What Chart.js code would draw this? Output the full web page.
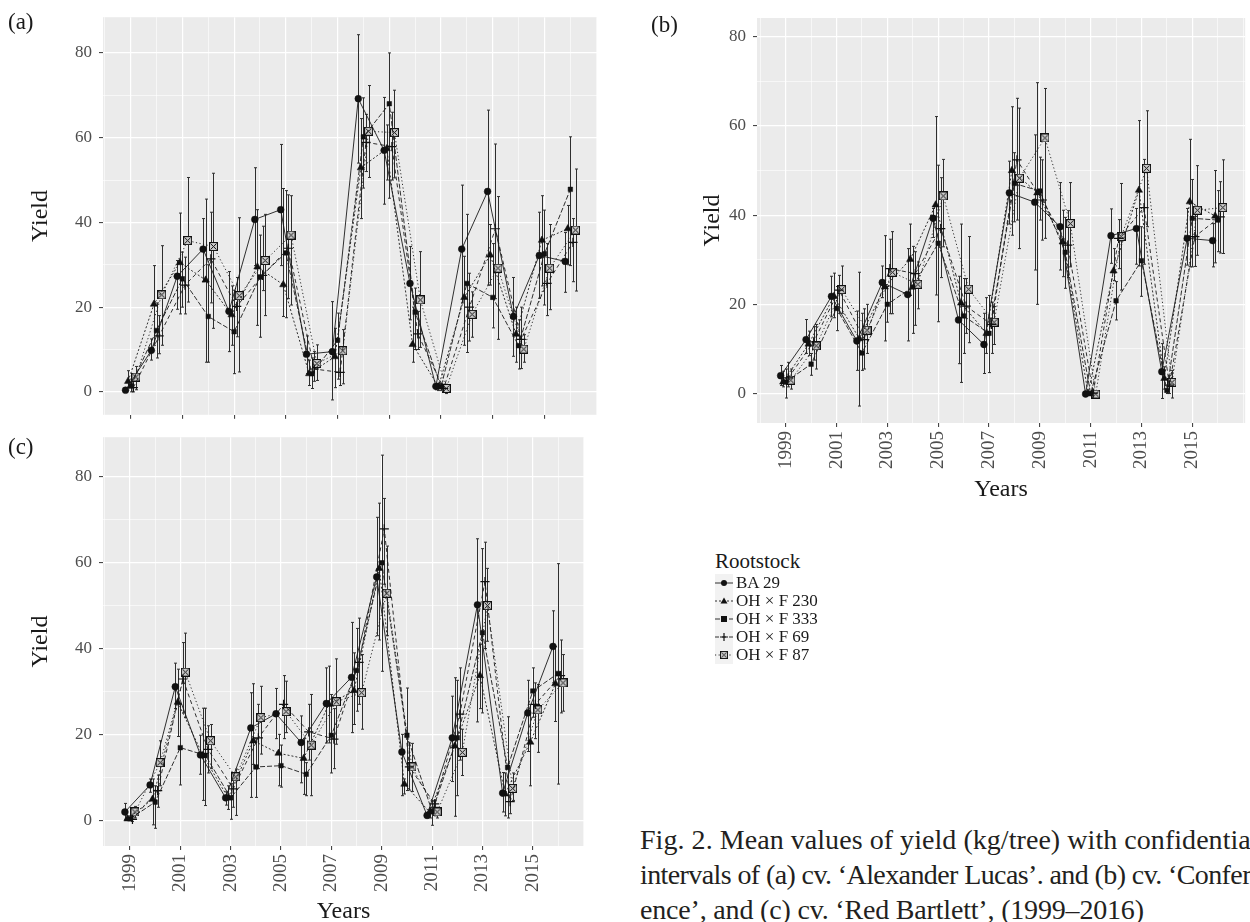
<!DOCTYPE html>
<html lang="en">
<head>
  <meta charset="UTF-8" />
  <title>Yield by rootstock, 1999–2016</title>
  <script src="https://cdn.jsdelivr.net/npm/chart.js"></script>
  <style>
    body {
      margin: 0;
      width: 1250px;
      height: 922px;
      position: relative;
      overflow: hidden;
      background: #fff;
      font-family: 'Liberation Serif', serif;
      color: #1a1a1a;
    }
    canvas.panel { position: absolute; }
    .tag { position: absolute; font-size: 23px; line-height: 24px; }
    #legend { position: absolute; left: 715px; top: 549px; }
    #legend .ltitle { font-size: 21px; line-height: 24px; margin-bottom: 1px; }
    #legend .lrow { display: flex; align-items: center; height: 18px; font-size: 17px; }
    #legend canvas { margin-right: 3px; }
    #caption {
      position: absolute;
      left: 640px;
      top: 822px;
      width: 610px;
      overflow: hidden;
      white-space: nowrap;
      font-size: 28px;
      line-height: 35px;
      color: #231f20;
    }
  </style>
</head>
<body>
  <canvas id="chartA" class="panel" width="610" height="432" style="left:0;top:0"></canvas>
  <canvas id="chartB" class="panel" width="630" height="520" style="left:640px;top:0"></canvas>
  <canvas id="chartC" class="panel" width="610" height="506" style="left:0;top:420px"></canvas>

  <div class="tag" style="left:8px;top:10px">(a)</div>
  <div class="tag" style="left:651px;top:13px">(b)</div>
  <div class="tag" style="left:8px;top:435px">(c)</div>

  <div id="legend">
    <div class="ltitle">Rootstock</div>
  </div>

  <div id="caption">
    <div style="letter-spacing:0.05px">Fig. 2. Mean values of yield (kg/tree) with confidential</div>
    <div style="letter-spacing:-0.6px">intervals of (a) cv. ‘Alexander Lucas’. and (b) cv. ‘Confer-</div>
    <div style="letter-spacing:-0.18px">ence’, and (c) cv. ‘Red Bartlett’, (1999–2016)</div>
  </div>

  <script>
    // ---- data ----
    const years = [1999, 2000, 2001, 2002, 2003, 2004, 2005, 2006, 2007, 2008, 2009, 2010, 2011, 2012, 2013, 2014, 2015, 2016];
    const rootstocks = ['BA 29', 'OH × F 230', 'OH × F 333', 'OH × F 69', 'OH × F 87'];
    const gridYears = [1998, 1999, 2000, 2001, 2002, 2003, 2004, 2005, 2006, 2007, 2008, 2009, 2010, 2011, 2012, 2013, 2014, 2015, 2016, 2017];
    const yearLabels = [1999, 2001, 2003, 2005, 2007, 2009, 2011, 2013, 2015];
    const yieldGrid = [0, 10, 20, 30, 40, 50, 60, 70, 80];
    const yieldLabels = [0, 20, 40, 60, 80];

    // (a) cv. Alexander Lucas
    const a_ba29    = [0.4, 9.8, 27.3, 33.7, 19.0, 40.7, 43.0, 8.9, 9.5, 69.2, 57.0, 25.6, 1.3, 33.7, 47.3, 17.8, 32.2, 30.8];
    const a_ba29_lo = [0, 7.5, 19.5, 26, 9.5, 29.8, 29.8, 4.3, -1.9, 54, 44.3, 17, 0.5, 21, 25.2, 8.4, 22.1, 23.5];
    const a_ba29_hi = [1, 12.5, 31, 40.9, 28.4, 52.9, 58.4, 13.2, 21.3, 84.3, 69.5, 34.3, 2, 48.8, 66.5, 27, 42.4, 37.6];
    const a_f230    = [2.5, 20.7, 30.5, 26.4, 18.2, 29.5, 25.3, 4.3, 8.3, 52.9, 57.4, 11.2, 1.2, 22.3, 32.3, 13.6, 35.8, 38.5];
    const a_f230_lo = [1, 11, 18.4, 7, 11, 15.7, 17.8, 1.5, 1, 40.9, 50, 7, 0.3, 11, 25.2, 7, 25, 30];
    const a_f230_hi = [5, 29.8, 42.2, 45.5, 25, 43, 48, 7.5, 15, 64.5, 63, 20, 2, 32, 39.5, 20, 46.3, 44];
    const a_f333    = [1.4, 14.5, 26.7, 17.8, 14.2, 27.1, 32.8, 4.3, 12.2, 60.2, 68.0, 18.8, 1.2, 25.6, 22.3, 10.9, 32.6, 47.8];
    const a_f333_lo = [0, 8, 20, 7, 4.3, 12.9, 17.5, 0.8, 3, 48.1, 45.7, 10, 0.3, 9.3, 15.1, 5.4, 20.5, 29.8];
    const a_f333_hi = [3, 21, 33, 30, 24, 37, 47.5, 8, 18.6, 69.4, 80, 24.5, 2, 41.9, 35, 17, 42.9, 60.2];
    const a_f69     = [1.0, 13.2, 25.2, 31.4, 20.2, 27.5, 33.9, 5.4, 4.6, 58.9, 57.9, 13.7, 0.8, 20.0, 38.5, 12.4, 25.6, 35.3];
    const a_f69_lo  = [0, 9, 18.4, 21, 13, 23.9, 22, 2.5, 1.5, 52, 50, 10, 0, 12, 22, 5.5, 18, 26];
    const a_f69_hi  = [3, 18, 31.8, 42.4, 27, 39.1, 46.5, 9.5, 10, 65.5, 66, 19, 1.8, 28, 58.5, 20, 35, 40.9];
    const a_f87     = [3.5, 22.9, 35.7, 34.3, 22.7, 31.0, 37.0, 6.7, 9.7, 61.5, 61.2, 21.7, 0.8, 18.3, 29.2, 10.1, 29.2, 38.2];
    const a_f87_lo  = [0.5, 11, 21.2, 15, 4.7, 18, 20.5, 2.7, 1.9, 50.6, 50.5, 10.5, -0.4, 12.9, 12.4, 7, 19.4, 23.8];
    const a_f87_hi  = [6, 34.5, 50.6, 51.6, 41.1, 41.9, 46.3, 11.1, 14.7, 72.3, 71.2, 33.1, 1.8, 23.6, 46.1, 13.5, 39.5, 52.6];

    // (b) cv. Conference
    const b_ba29    = [4.0, 12.1, 21.8, 11.8, 24.9, 22.2, 39.3, 16.5, 11.0, 45.0, 42.9, 37.4, -0.1, 35.4, 37.0, 4.9, 34.8, 34.3];
    const b_ba29_lo = [1.8, 9, 17.2, 5.2, 21.5, 11.8, 35, 6.7, 4.5, 38, 27.7, 27.7, -0.4, 29.2, 29, -1.1, 28.8, 28.4];
    const b_ba29_hi = [6.3, 16.6, 26.3, 18.5, 28.6, 32.5, 41.5, 26.3, 18, 52.1, 58, 47.3, 0.2, 41.4, 41.5, 11.2, 41.5, 38.1];
    const b_f230    = [2.6, 11.1, 21.8, 12.3, 23.9, 30.1, 42.3, 20.3, 13.5, 50.0, 45.0, 34.0, 0, 27.5, 45.6, 3.4, 43.0, 39.8];
    const b_f230_lo = [1.5, 8.5, 17, -2.8, 11.8, 22, 22.1, 2.5, 9, 35.5, 20, 26.2, -0.3, 25.3, 28.6, 1, 28.4, 29.3];
    const b_f230_hi = [5, 14, 27, 27.2, 35.4, 38, 62.1, 38, 21.5, 64.3, 69.7, 41.1, 0.3, 32.5, 61.2, 6, 57, 50];
    const b_f333    = [2.6, 6.6, 19.1, 9.1, 20.0, 23.9, 33.7, 17.4, 13.5, 47.1, 45.4, 31.7, 0, 20.8, 29.8, 0.7, 39.3, 38.9];
    const b_f333_lo = [-1, 4.1, 14.1, 5.2, 16, 13.5, 16.1, 9, 4.7, 38.5, 38.9, 23.6, -0.3, 16.5, 21.8, 0, 28.4, 31.8];
    const b_f333_hi = [5.5, 9, 24, 18, 24, 33, 51.2, 25.8, 22, 54, 53, 39.5, 0.3, 25.1, 37.4, 1.5, 48, 45.5];
    const b_f69     = [3.5, 11.6, 23.2, 12.1, 28.0, 26.9, 37.0, 19.6, 15.5, 52.4, 43.4, 33.3, 0.1, 34.8, 41.7, 1.9, 35.2, 39.6];
    const b_f69_lo  = [1.5, 7.5, 18, 5.5, 17.9, 15.3, 26, 13.5, 9, 38.9, 34.4, 26, -0.2, 28, 29, 0, 28.5, 31.5];
    const b_f69_hi  = [7, 15, 26.5, 19, 34.6, 31.8, 48.4, 25.8, 20.5, 66.2, 52.4, 41, 0.4, 39, 52.5, 4, 42, 47.5];
    const b_f87     = [3.0, 10.7, 23.3, 14.2, 27.2, 24.5, 44.3, 23.4, 16.0, 48.3, 57.3, 38.1, -0.1, 35.2, 50.5, 2.5, 41.1, 41.7];
    const b_f87_lo  = [1, 5.5, 18, 9, 17.9, 19, 32.9, 11.4, 11, 32.5, 34.8, 28.4, -0.4, 23.2, 37.4, -1, 31, 31.4];
    const b_f87_hi  = [5.5, 15.5, 28.6, 20, 36.3, 29.5, 52.5, 35.2, 19.5, 64, 68.4, 47.3, 0.2, 47.1, 63.4, 5.2, 51.1, 52.4];

    // (c) cv. Red Bartlett
    const c_ba29    = [1.9, 8.2, 31.1, 15.2, 5.2, 21.5, 24.8, 18.1, 27.2, 33.3, 56.7, 15.9, 1.1, 19.2, 50.2, 6.3, 25.0, 40.5];
    const c_ba29_lo = [0.2, 6.5, 26, 10.7, 3.5, 5.3, 19, 8.7, 18, 20.4, 43, 5.7, 0.5, 9, 22.9, 1.9, 16, 32];
    const c_ba29_hi = [3.9, 9.6, 36.6, 19.8, 6.6, 29.7, 30.7, 24.3, 35.5, 46.1, 70.6, 20, 1.8, 28.9, 65.6, 11.1, 32.6, 48.8];
    const c_f230    = [0.3, 4.9, 27.5, 15.1, 5.2, 18.5, 15.6, 14.4, 27.0, 30.2, 58.7, 8.4, 1.9, 17.3, 33.7, 6.1, 18.2, 31.8];
    const c_f230_lo = [0, -1.1, 19.5, 4.6, 2.5, 13, 8, 6, 18, 22.3, 42, 6.1, 0.5, 0.9, 26, 1, 8, 23];
    const c_f230_hi = [1, 9.6, 35.2, 26.1, 8, 31.8, 20, 19, 35.9, 39, 73.9, 9.6, 3, 33.2, 41, 11, 27, 40.5];
    const c_f333    = [0.3, 4.2, 16.9, 15.1, 5.2, 12.4, 12.7, 10.7, 19.8, 34.9, 60.0, 19.8, 2.0, 19.2, 43.7, 12.3, 30.1, 34.2];
    const c_f333_lo = [0, -1.9, 8.2, 3.4, 0.2, 5.3, 7.7, 5.7, 11, 25.4, 34.7, 6.9, -1.2, 5.7, 25, 0.5, 24, 8.4];
    const c_f333_hi = [1, 8, 27, 26.1, 8.5, 19, 17.5, 13.4, 29.3, 44.7, 85.1, 30.8, 4.5, 32.6, 63.3, 24.1, 35.5, 59.8];
    const c_f69     = [0.2, 6.9, 32.9, 16.5, 7.3, 19.2, 27.0, 20.6, 18.9, 36.8, 67.9, 12.4, 3.8, 24.7, 55.6, 4.3, 27.0, 33.7];
    const c_f69_lo  = [-0.3, 3, 25, 11, 3, 12, 19, 14, 12, 27, 55, 7, 1, 14, 40, 1.5, 19, 25];
    const c_f69_hi  = [0.8, 10.5, 41.4, 22, 11, 27, 33.7, 27, 26, 47.1, 75, 18, 4.5, 35.5, 64.8, 8, 32, 42];
    const c_f87     = [1.9, 13.4, 34.5, 18.5, 10.1, 23.9, 25.3, 17.5, 27.6, 29.7, 52.9, 12.4, 1.9, 15.8, 50.0, 7.4, 25.7, 32.0];
    const c_f87_lo  = [0.5, 8, 23.9, 12, 1.1, 15.4, 20.4, 5.7, 17.7, 21.2, 43, 6.7, 0.5, 10.4, 41.7, 4.6, 15.8, 25.4];
    const c_f87_hi  = [3.2, 18.5, 43.6, 22.3, 11.9, 31.2, 32.4, 29.3, 37.6, 38.6, 63.9, 17.9, 3, 21.2, 58.7, 11, 31.6, 38.6];

    // ---- styling ----
    const FONT = "'Liberation Serif', serif";
    const ink = '#1a1a1a';
    const dodge = [-0.2, -0.1, 0, 0.1, 0.2];
    const dashes = [[], [2, 2], [5, 2], [4, 3], [1.2, 2.4]];
    const markerSize = [3.4, 4.2, 3.2, 4.6, 4.5];

    // open square with an X (ggplot shape 7)
    function boxCross(size) {
      const c = document.createElement('canvas');
      c.width = size; c.height = size;
      const g = c.getContext('2d');
      g.fillStyle = '#c9c9c9';
      g.fillRect(0, 0, size, size);
      g.strokeStyle = '#111';
      g.lineWidth = 1;
      g.strokeRect(0.5, 0.5, size - 1, size - 1);
      g.beginPath();
      g.moveTo(1.5, 1.5); g.lineTo(size - 1.5, size - 1.5);
      g.moveTo(size - 1.5, 1.5); g.lineTo(1.5, size - 1.5);
      g.stroke();
      return c;
    }
    const markers = ['circle', 'triangle', 'rect', 'cross', boxCross(9)];

    const panelBg = {
      id: 'panelBg',
      beforeDraw(chart) {
        const { ctx, chartArea: a } = chart;
        ctx.save();
        ctx.fillStyle = '#EBEBEB';
        ctx.fillRect(a.left, a.top, a.right - a.left, a.bottom - a.top);
        ctx.restore();
      }
    };

    // vertical error bars with small caps, placed through the chart scales
    const errorBars = {
      id: 'errorBars',
      beforeDatasetsDraw(chart) {
        const { ctx, scales: { x, y } } = chart;
        ctx.save();
        ctx.strokeStyle = '#2e2e2e';
        ctx.lineWidth = 1;
        chart.data.datasets.forEach(ds => {
          ds.data.forEach((p, i) => {
            const px = Math.round(x.getPixelForValue(p.x)) + 0.5;
            const yl = y.getPixelForValue(ds.errLo[i]);
            const yh = y.getPixelForValue(ds.errHi[i]);
            ctx.beginPath();
            ctx.moveTo(px, yl); ctx.lineTo(px, yh);
            ctx.moveTo(px - 1.5, yl); ctx.lineTo(px + 1.5, yl);
            ctx.moveTo(px - 1.5, yh); ctx.lineTo(px + 1.5, yh);
            ctx.stroke();
          });
        });
        ctx.restore();
      }
    };

    const isMajorYear = v => yearLabels.includes(v);
    const isMajorYield = v => yieldLabels.includes(v);

    function buildPanel(id, means, lows, highs, opt) {
      const datasets = rootstocks.map((name, s) => ({
        label: name,
        data: years.map((yr, i) => ({ x: yr + dodge[s], y: means[s][i] })),
        errLo: lows[s],
        errHi: highs[s],
        borderColor: ink,
        borderWidth: 0.9,
        borderDash: dashes[s],
        pointStyle: markers[s],
        pointRadius: markerSize[s],
        pointBackgroundColor: '#111',
        pointBorderColor: '#111',
        pointBorderWidth: s === 3 ? 1.2 : 0.5,
        tension: 0,
        fill: false
      }));

      return new Chart(document.getElementById(id), {
        type: 'line',
        data: { datasets },
        options: {
          responsive: false,
          animation: false,
          events: [],
          layout: { padding: opt.padding },
          plugins: { legend: { display: false }, tooltip: { enabled: false } },
          scales: {
            x: {
              type: 'linear',
              min: opt.xMin,
              max: opt.xMax,
              afterBuildTicks: s => { s.ticks = gridYears.map(v => ({ value: v })); },
              afterFit: s => { s.height = opt.xHeight; },
              border: { display: false },
              grid: {
                color: '#FFFFFF',
                lineWidth: c => isMajorYear(c.tick.value) ? 1.2 : 0.6,
                tickColor: c => isMajorYear(c.tick.value) ? '#333333' : 'rgba(0,0,0,0)',
                tickLength: 4,
                tickWidth: 1
              },
              ticks: {
                autoSkip: false,
                minRotation: opt.xLabels ? 90 : 0,
                maxRotation: opt.xLabels ? 90 : 0,
                padding: 4,
                color: '#4D4D4D',
                font: { family: FONT, size: 19 },
                callback: v => (opt.xLabels && isMajorYear(v)) ? String(v) : ''
              },
              title: {
                display: opt.xLabels,
                text: 'Years',
                color: ink,
                font: { family: FONT, size: 24 },
                padding: { top: 0, bottom: opt.xTitlePad }
              }
            },
            y: {
              min: opt.yMin,
              max: opt.yMax,
              afterBuildTicks: s => { s.ticks = yieldGrid.map(v => ({ value: v })); },
              afterFit: s => { s.width = opt.yWidth; },
              border: { display: false },
              grid: {
                color: '#FFFFFF',
                lineWidth: c => isMajorYield(c.tick.value) ? 1.2 : 0.6,
                tickColor: c => isMajorYield(c.tick.value) ? '#333333' : 'rgba(0,0,0,0)',
                tickLength: 4,
                tickWidth: 1
              },
              ticks: {
                padding: 7,
                color: '#4D4D4D',
                font: { family: FONT, size: 17 },
                callback: v => isMajorYield(v) ? String(v) : ''
              },
              title: {
                display: true,
                text: 'Yield',
                color: ink,
                font: { family: FONT, size: 24 },
                padding: { top: opt.yTitlePad, bottom: 0 }
              }
            }
          }
        },
        plugins: [panelBg, errorBars]
      });
    }

    buildPanel('chartA',
      [a_ba29, a_f230, a_f333, a_f69, a_f87],
      [a_ba29_lo, a_f230_lo, a_f333_lo, a_f69_lo, a_f87_lo],
      [a_ba29_hi, a_f230_hi, a_f333_hi, a_f69_hi, a_f87_hi],
      { padding: { top: 16, right: 13, left: 0, bottom: 0 }, xMin: 1997.93, xMax: 2017.03,
        yMin: -5.41, yMax: 88.43, yWidth: 103, xHeight: 12, xLabels: false, xTitlePad: 0, yTitlePad: 26 });

    buildPanel('chartB',
      [b_ba29, b_f230, b_f333, b_f69, b_f87],
      [b_ba29_lo, b_f230_lo, b_f333_lo, b_f69_lo, b_f87_lo],
      [b_ba29_hi, b_f230_hi, b_f333_hi, b_f69_hi, b_f87_hi],
      { padding: { top: 18, right: 20, left: 0, bottom: 0 }, xMin: 1997.87, xMax: 2017.08,
        yMin: -6.6, yMax: 84.2, yWidth: 117, xHeight: 97, xLabels: true, xTitlePad: 16, yTitlePad: 58 });

    buildPanel('chartC',
      [c_ba29, c_f230, c_f333, c_f69, c_f87],
      [c_ba29_lo, c_f230_lo, c_f333_lo, c_f69_lo, c_f87_lo],
      [c_ba29_hi, c_f230_hi, c_f333_hi, c_f69_hi, c_f87_hi],
      { padding: { top: 15, right: 12, left: 0, bottom: 0 }, xMin: 1997.93, xMax: 2017.03,
        yMin: -6.03, yMax: 89.28, yWidth: 103, xHeight: 80, xLabels: true, xTitlePad: 0, yTitlePad: 26 });

    // ---- legend (key glyphs drawn by hand) ----
    function drawKey(canvas, s) {
      const g = canvas.getContext('2d');
      g.fillStyle = '#F2F2F2';
      g.fillRect(0, 0, 18, 18);
      g.strokeStyle = ink;
      g.lineWidth = 0.9;
      g.setLineDash(dashes[s]);
      g.beginPath(); g.moveTo(0, 9); g.lineTo(18, 9); g.stroke();
      g.setLineDash([]);
      g.fillStyle = '#111';
      g.strokeStyle = '#111';
      if (s === 0) { g.beginPath(); g.arc(9, 9, 3, 0, Math.PI * 2); g.fill(); }
      if (s === 1) { g.beginPath(); g.moveTo(9, 5.5); g.lineTo(12.5, 11.5); g.lineTo(5.5, 11.5); g.closePath(); g.fill(); }
      if (s === 2) { g.fillRect(6, 6, 6, 6); }
      if (s === 3) { g.lineWidth = 1.2; g.beginPath(); g.moveTo(5, 9); g.lineTo(13, 9); g.moveTo(9, 5); g.lineTo(9, 13); g.stroke(); }
      if (s === 4) { g.drawImage(markers[4], 5, 5, 8, 8); }
    }

    const legend = document.getElementById('legend');
    rootstocks.forEach((name, s) => {
      const row = document.createElement('div');
      row.className = 'lrow';
      const key = document.createElement('canvas');
      key.width = 18; key.height = 18;
      drawKey(key, s);
      const label = document.createElement('span');
      label.textContent = name;
      row.appendChild(key);
      row.appendChild(label);
      legend.appendChild(row);
    });
  </script>
</body>
</html>
